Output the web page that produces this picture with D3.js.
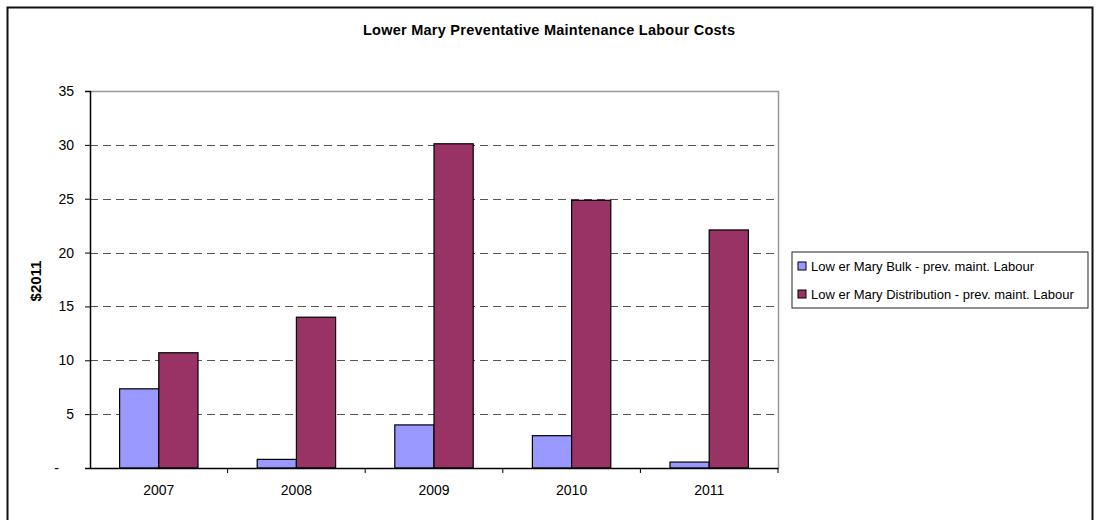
<!DOCTYPE html>
<html>
<head>
	<title>Lower Mary Preventative Maintenance Labour Costs</title>
	<script type="text/javascript" src="https://cdn.jsdelivr.net/npm/d3@7"></script>
	<style type="text/css">
		body {
			margin: 0;
			background: #fff;
		}
		text {
			font-family: "Liberation Sans", Arial, sans-serif;
			fill: #000;
		}
		.grid line {
			stroke: #555;
			stroke-dasharray: 8,5;
		}
	</style>
</head>
<body>
	<div id="chart"></div>
	<script type="text/javascript">
		const years = ["2007", "2008", "2009", "2010", "2011"];
		const seriesNames = [
			"Low er Mary Bulk - prev. maint. Labour",
			"Low er Mary Distribution - prev. maint. Labour"
		];
		const bulk = [7.35, 0.8, 4.0, 3.0, 0.55];
		const distribution = [10.7, 14.0, 30.1, 24.85, 22.1];
		const yTicks = [0, 5, 10, 15, 20, 25, 30, 35];
		const colors = ["#9999ff", "#993366"];

		const width = 1100;
		const height = 520;
		const margin = ({top: 91, right: 322, bottom: 52, left: 90});

		const svg = d3.select("#chart").append("svg")
			.attr("width", width)
			.attr("height", height);

		// outer chart frame
		svg.append("rect")
			.attr("x", 7.5)
			.attr("y", 7.5)
			.attr("width", 1085)
			.attr("height", 530)
			.attr("fill", "none")
			.attr("stroke", "#111")
			.attr("stroke-width", 2);

		svg.append("text")
			.attr("x", 549)
			.attr("y", 35)
			.attr("text-anchor", "middle")
			.attr("font-size", "14.5px")
			.attr("font-weight", "bold")
			.attr("textLength", 372)
			.text("Lower Mary Preventative Maintenance Labour Costs");

		const x0 = d3.scaleBand()
			.domain(years)
			.range([margin.left, width - margin.right]);

		const x1 = d3.scaleBand()
			.domain([0, 1])
			.range([0, x0.bandwidth()])
			.paddingOuter(0.755);

		const y = d3.scaleLinear()
			.domain([0, 35])
			.range([height - margin.bottom, margin.top]);

		// plot area border (top and right, grey)
		svg.append("path")
			.attr("d", `M${margin.left},${y(35) + 0.5}H${width - margin.right + 0.5}V${y(0)}`)
			.attr("fill", "none")
			.attr("stroke", "#999")
			.attr("stroke-width", 1.5);

		// dashed gridlines
		svg.append("g")
			.attr("class", "grid")
			.selectAll("line")
			.data(yTicks.filter(d => d > 0 && d < 35))
			.join("line")
				.attr("x1", margin.left)
				.attr("x2", width - margin.right)
				.attr("y1", d => Math.round(y(d)) + 0.5)
				.attr("y2", d => Math.round(y(d)) + 0.5);

		// bars
		const data = years.map((yr, i) => ({year: yr, values: [bulk[i], distribution[i]]}));

		svg.append("g")
			.selectAll("g")
			.data(data)
			.join("g")
				.attr("transform", d => `translate(${x0(d.year)},0)`)
			.selectAll("rect")
			.data(d => d.values.map((v, k) => ({k: k, v: v})))
			.join("rect")
				.attr("x", d => x1(d.k))
				.attr("y", d => y(d.v))
				.attr("width", x1.bandwidth())
				.attr("height", d => y(0) - y(d.v))
				.attr("fill", d => colors[d.k])
				.attr("stroke", "#000")
				.attr("stroke-width", 1.2);

		// y axis
		const yAxis = svg.append("g")
			.attr("transform", `translate(${margin.left},0)`)
			.call(d3.axisLeft(y)
				.tickValues(yTicks)
				.tickSize(5)
				.tickPadding(11)
				.tickFormat(d => d === 0 ? "-" : d));
		yAxis.select(".domain").attr("stroke", "#000").attr("stroke-width", 1.5);
		yAxis.selectAll(".tick line").attr("stroke", "#000");
		yAxis.selectAll("text")
			.attr("font-size", "14px")
			.attr("font-family", "Liberation Sans, Arial, sans-serif");
		yAxis.select(".tick:first-of-type text").attr("dx", "-15");

		// x axis
		const xAxis = svg.append("g")
			.attr("transform", `translate(0,${y(0)})`)
			.call(d3.axisBottom(x0).tickSize(0).tickPadding(17));
		xAxis.select(".domain").attr("stroke", "#000").attr("stroke-width", 1.5);
		xAxis.selectAll("text")
			.attr("font-size", "14px")
			.attr("font-family", "Liberation Sans, Arial, sans-serif");
		xAxis.selectAll(".sep")
			.data(years.slice(1))
			.join("line")
				.attr("class", "sep")
				.attr("x1", d => x0(d))
				.attr("x2", d => x0(d))
				.attr("y1", 0)
				.attr("y2", 5)
				.attr("stroke", "#000");
		xAxis.append("line")
			.attr("x1", width - margin.right)
			.attr("x2", width - margin.right)
			.attr("y1", 0)
			.attr("y2", 5)
			.attr("stroke", "#000");

		// y axis title
		svg.append("text")
			.attr("transform", "translate(41,281) rotate(-90)")
			.attr("text-anchor", "middle")
			.attr("font-size", "15px")
			.attr("font-weight", "bold")
			.text("$2011");

		// legend
		const legend = svg.append("g")
			.attr("transform", "translate(792,252)");
		legend.append("rect")
			.attr("width", 296)
			.attr("height", 56)
			.attr("fill", "#fff")
			.attr("stroke", "#222")
			.attr("stroke-width", 1);
		const items = legend.selectAll(".item")
			.data(seriesNames)
			.join("g")
				.attr("class", "item")
				.attr("transform", (d, i) => `translate(6,${14 + i * 28})`);
		items.append("rect")
			.attr("x", 0)
			.attr("y", -4)
			.attr("width", 8)
			.attr("height", 8)
			.attr("fill", (d, i) => colors[i])
			.attr("stroke", "#000")
			.attr("stroke-width", 1);
		items.append("text")
			.attr("x", 13)
			.attr("y", 5)
			.attr("font-size", "13px")
			.text(d => d);
	</script>
</body>
</html>
